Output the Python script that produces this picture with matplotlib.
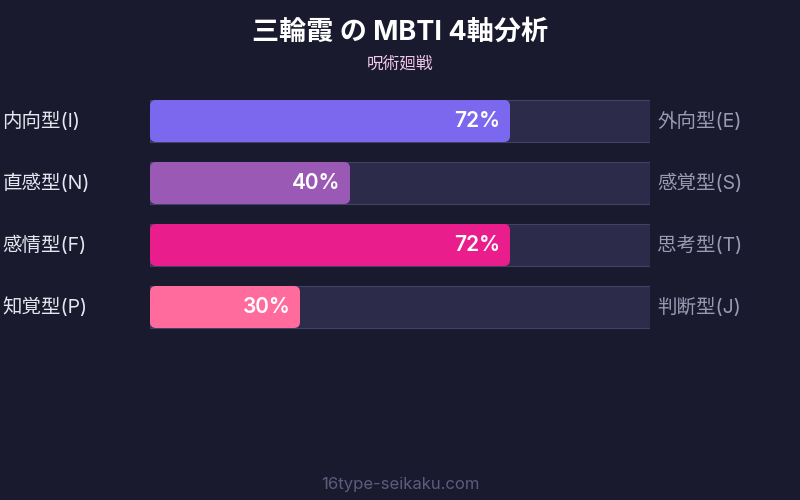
import matplotlib
matplotlib.use("Agg")
import matplotlib.pyplot as plt
from matplotlib.patches import FancyBboxPatch

plt.rcParams['font.family'] = ['Inter', 'Noto Sans CJK JP', 'DejaVu Sans']

title = "三輪霞 の MBTI 4軸分析"
subtitle = "呪術廻戦"
footer = "16type-seikaku.com"
left_labels = ["内向型(I)", "直感型(N)", "感情型(F)", "知覚型(P)"]
right_labels = ["外向型(E)", "感覚型(S)", "思考型(T)", "判断型(J)"]
values = [72, 40, 72, 30]
colors = ["#7b68ee", "#9b59b6", "#e91e8c", "#ff6b9d"]

BG = "#1a1a2e"
fig = plt.figure(figsize=(8, 5), dpi=100, facecolor=BG)

# bar axes: x 150..650 px, y 90..338 px
ax = fig.add_axes([150/800, (500-338)/500, 500/800, 248/500])
ax.set_facecolor(BG)
ax.set_xlim(0, 100)
ax.set_ylim(len(values) - 0.5, -0.5)
ax.axis('off')

bar_h = 42/62
ys = list(range(len(values)))
ax.barh(ys, [100]*len(values), height=bar_h, left=0, color="#2d2b4a",
        edgecolor="#42416a", linewidth=0.8, zorder=1)

aspect = 5/62
for y, v, c, ll, rl in zip(ys, values, colors, left_labels, right_labels):
    p = FancyBboxPatch((0, y - bar_h/2), v, bar_h,
                       boxstyle="round,pad=0,rounding_size=1.2",
                       mutation_aspect=aspect, facecolor=c, edgecolor='none',
                       zorder=2)
    ax.add_patch(p)
    ax.text(v - 1.9, y, f"{v}%", ha='right', va='center', color='white',
            fontsize=15, fontweight='semibold', zorder=3)
    ax.text(-29.5, y, ll, ha='left', va='center', color='#e6e6f0', fontsize=14)
    ax.text(101.4, y, rl, ha='left', va='center', color='#9a9ab4', fontsize=14)

fig.text(0.5, 1 - 33/500, title, ha='center', va='center', color='white',
         fontsize=19.5, fontweight='bold')
fig.text(0.5, 1 - 64/500, subtitle, ha='center', va='center', color='#f0c8e8',
         fontsize=12)
fig.text(0.5, 1 - 485/500, footer, ha='center', va='center', color='#5c5c7c',
         fontsize=12)

fig.savefig("out.png", dpi=100, facecolor=BG)
